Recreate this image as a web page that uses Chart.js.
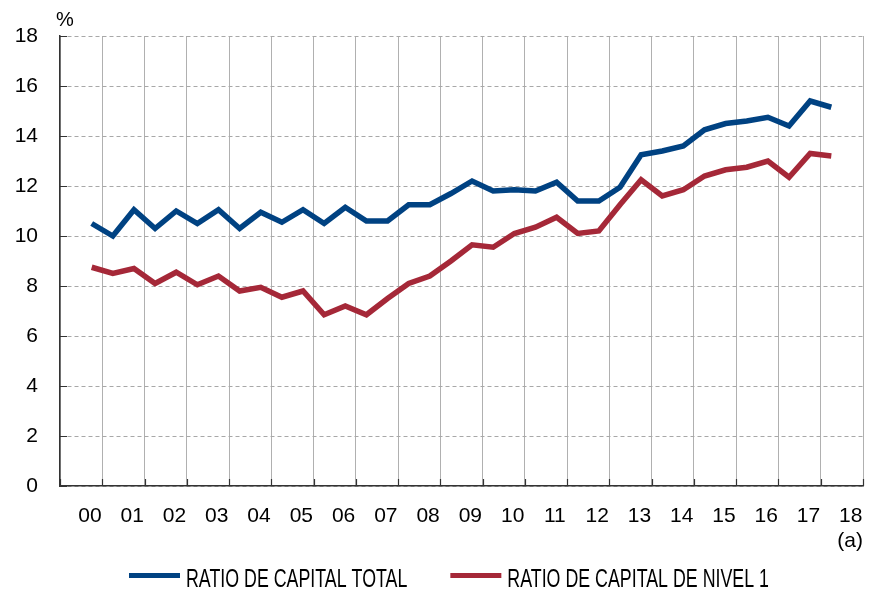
<!DOCTYPE html>
<html>
<head>
<meta charset="utf-8">
<script src="https://cdn.jsdelivr.net/npm/chart.js@4.4.0/dist/chart.umd.min.js"></script>
<style>
html,body{margin:0;padding:0;background:#fff;}
#wrap{width:869px;height:589px;}
</style>
</head>
<body>
<div id="wrap"><canvas id="c" width="869" height="589"></canvas></div>
<script>
// ---- data ----
const yearLabels = ['00','01','02','03','04','05','06','07','08','09','10','11','12','13','14','15','16','17','18'];
const yTickValues = [0,2,4,6,8,10,12,14,16,18];
const seriesNames = ['RATIO DE CAPITAL TOTAL','RATIO DE CAPITAL DE NIVEL 1'];
const totalCapital = [10.5,10.0,11.05,10.3,11.0,10.5,11.05,10.3,10.95,10.55,
                      11.05,10.5,11.15,10.6,10.6,11.25,11.25,11.7,12.2,11.8,
                      11.85,11.8,12.15,11.4,11.4,11.95,13.25,13.4,13.6,14.25,
                      14.5,14.6,14.75,14.4,15.4,15.15];
const tier1Capital = [8.75,8.5,8.7,8.1,8.55,8.05,8.4,7.8,7.95,7.55,
                      7.8,6.85,7.2,6.85,7.5,8.1,8.4,9.0,9.65,9.55,
                      10.1,10.35,10.75,10.1,10.2,11.25,12.25,11.6,11.85,12.4,
                      12.65,12.75,13.0,12.35,13.3,13.2];
const unitLabel = '%';
const footnote = '(a)';
// half-year observations, expressed in years from the start of the axis
const firstObs = 0.75, obsStep = 0.5;
const toPoints = vals => vals.map((v, i) => ({x: firstObs + i * obsStep, y: v}));

const BLUE = '#004282', RED = '#a52838';
const FONT = '"Liberation Sans", Arial, Helvetica, sans-serif';
const LEGEND_SQUEEZE = 0.685; // condensed look for legend text

const decor = {
  id: 'decor',
  afterDraw(chart) {
    const {ctx, chartArea: a, scales: {x, y}} = chart;
    ctx.save();
    // inner tick marks
    ctx.strokeStyle = '#333';
    ctx.lineWidth = 1.2;
    ctx.beginPath();
    yTickValues.forEach(v => {
      const py = Math.round(y.getPixelForValue(v)) + 0.5;
      ctx.moveTo(a.left, py); ctx.lineTo(a.left + 7, py);
    });
    for (let i = 0; i <= yearLabels.length; i++) {
      const px = Math.round(x.getPixelForValue(i)) + 0.5;
      ctx.moveTo(px, a.bottom); ctx.lineTo(px, a.bottom - 7);
    }
    ctx.stroke();
    // unit and footnote
    ctx.fillStyle = '#000';
    ctx.font = '20px ' + FONT;
    ctx.textAlign = 'left';
    ctx.textBaseline = 'alphabetic';
    ctx.fillText(unitLabel, a.left - 4, 26);
    ctx.font = '21px ' + FONT;
    ctx.textAlign = 'right';
    ctx.fillText(footnote, a.right, 547);
    // legend
    ctx.font = '26px ' + FONT;
    ctx.textAlign = 'left';
    let lx = 129;
    const ly = 575.5;
    chart.data.datasets.forEach(ds => {
      ctx.strokeStyle = ds.borderColor;
      ctx.lineWidth = 5;
      ctx.beginPath();
      ctx.moveTo(lx, ly); ctx.lineTo(lx + 51, ly);
      ctx.stroke();
      ctx.fillStyle = '#000';
      ctx.save();
      ctx.translate(lx + 57, 587);
      ctx.scale(LEGEND_SQUEEZE, 1);
      ctx.fillText(ds.label, 0, 0);
      ctx.restore();
      lx += 57 + ctx.measureText(ds.label).width * LEGEND_SQUEEZE + 43;
    });
    ctx.restore();
  }
};

new Chart(document.getElementById('c'), {
  type: 'line',
  data: {
    datasets: [
      {label: seriesNames[0], data: toPoints(totalCapital), borderColor: BLUE, backgroundColor: BLUE,
       borderWidth: 5.5, pointRadius: 0, tension: 0, borderJoinStyle: 'miter'},
      {label: seriesNames[1], data: toPoints(tier1Capital), borderColor: RED, backgroundColor: RED,
       borderWidth: 5.5, pointRadius: 0, tension: 0, borderJoinStyle: 'miter'}
    ]
  },
  options: {
    responsive: false,
    animation: false,
    devicePixelRatio: 1,
    layout: {padding: {left: 0, right: 6, top: 36, bottom: 0}},
    plugins: {legend: {display: false}, tooltip: {enabled: false}, title: {display: false}},
    scales: {
      x: {
        type: 'linear', min: 0, max: yearLabels.length,
        afterBuildTicks: s => { s.ticks = Array.from({length: yearLabels.length + 1}, (_, i) => ({value: i})); },
        afterFit: s => { s.height = 103; s.paddingLeft = 0; s.paddingRight = 0; },
        ticks: {
          callback: (v, i) => (i < yearLabels.length ? yearLabels[i] : ''),
          labelOffset: 30, padding: 18, autoSkip: false, maxRotation: 0,
          color: '#000', font: {family: FONT, size: 21}
        },
        grid: {color: '#b0b0b0', lineWidth: 1, drawTicks: false},
        border: {display: true, color: '#333', width: 1.5}
      },
      y: {
        type: 'linear', min: 0, max: 18,
        afterBuildTicks: s => { s.ticks = yTickValues.map(v => ({value: v})); },
        afterFit: s => { s.width = 60; s.paddingTop = 0; s.paddingBottom = 0; },
        ticks: {padding: 22, color: '#000', font: {family: FONT, size: 21}},
        grid: {color: '#a8a8a8', lineWidth: 1, drawTicks: false},
        border: {display: true, color: '#333', width: 1.5, dash: [4, 3]}
      }
    }
  },
  plugins: [decor]
});
</script>
</body>
</html>
